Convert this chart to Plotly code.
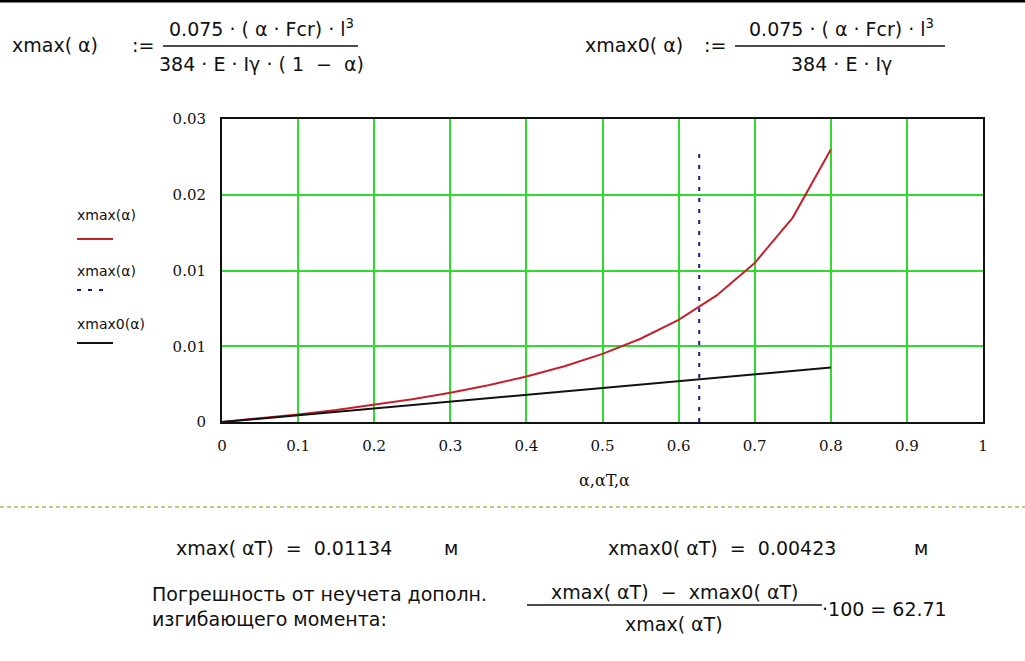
import plotly.graph_objects as go

# ---- data ----
alpha = [0, 0.05, 0.1, 0.15, 0.2, 0.25, 0.3, 0.35, 0.4, 0.45, 0.5, 0.55, 0.6, 0.65, 0.7, 0.75, 0.8]
xmax_vals = [0, 0.000355, 0.000750, 0.001190, 0.001687, 0.002249, 0.002891, 0.003633, 0.004497,
             0.005520, 0.006746, 0.008245, 0.010119, 0.012529, 0.015741, 0.020238, 0.026984]
xmax0_vals = [0, 0.000337, 0.000675, 0.001012, 0.001349, 0.001687, 0.002024, 0.002361, 0.002698,
              0.003036, 0.003373, 0.003710, 0.004048, 0.004385, 0.004722, 0.005060, 0.005397]
alphaT_x = [0.6271, 0.6271]
alphaT_y = [0, 0.026984]

x_ticks = [0, 0.1, 0.2, 0.3, 0.4, 0.5, 0.6, 0.7, 0.8, 0.9, 1]
x_ticktext = ["0", "0.1", "0.2", "0.3", "0.4", "0.5", "0.6", "0.7", "0.8", "0.9", "1"]
y_ticks = [0, 0.0075, 0.015, 0.0225, 0.03]
y_ticktext = ["0", "0.01", "0.01", "0.02", "0.03"]

W, H = 1025, 661
L, R, T, B = 222, 983, 119, 422


def px(x):
    return (x - L) / (R - L)


def py(y):
    return (B - y) / (B - T)


RED = "#c8202a"
BLUE = "#1a1a8c"
GREEN = "#2ddc2d"
MATH_FONT = "DejaVu Sans, sans-serif"
TICK_FONT = "DejaVu Serif, serif"
MS = 19

fig = go.Figure()
fig.add_trace(go.Scatter(x=alpha, y=xmax_vals, mode="lines", line=dict(color=RED, width=2), showlegend=False))
fig.add_trace(go.Scatter(x=alphaT_x, y=alphaT_y, mode="lines",
                         line=dict(color=BLUE, width=2, dash="4px,7px"), showlegend=False))
fig.add_trace(go.Scatter(x=alpha, y=xmax0_vals, mode="lines", line=dict(color="#111111", width=2), showlegend=False))

annotations = []
shapes = []


def text(x, y, s, size=MS, anchor="left", family=MATH_FONT, color="#111111"):
    annotations.append(dict(x=px(x), y=py(y), xref="paper", yref="paper", text=s, showarrow=False,
                            xanchor=anchor, yanchor="middle", font=dict(size=size, family=family, color=color)))


def hline(x0, x1, y, color="#111111", width=1.5, dash=None):
    ln = dict(color=color, width=width)
    if dash:
        ln["dash"] = dash
    shapes.append(dict(type="line", xref="paper", yref="paper", x0=px(x0), x1=px(x1), y0=py(y), y1=py(y), line=ln))


# top black band
shapes.append(dict(type="rect", xref="paper", yref="paper", x0=px(0), x1=px(W), y0=py(0), y1=py(2.5),
                   line=dict(width=0), fillcolor="#000000"))

# formula 1
text(10, 45, "xmax( α)")
text(130, 45, ":=")
text(261, 28, "0.075 · ( α · Fcr) · l<sup>3</sup>", anchor="center")
hline(163, 358, 46)
text(261, 64, "384 · E · Iγ · ( 1  −  α)", anchor="center")

# formula 2
text(583, 45, "xmax0( α)")
text(702, 45, ":=")
text(841, 28, "0.075 · ( α · Fcr) · l<sup>3</sup>", anchor="center")
hline(735, 945, 46)
text(841, 64, "384 · E · Iγ", anchor="center")

# legend
LEG_FONT = "DejaVu Sans, sans-serif"
text(75, 215, "xmax(α)", size=14, family=LEG_FONT)
hline(77, 113, 239, color=RED, width=2)
text(75, 271, "xmax(α)", size=14, family=LEG_FONT)
hline(77, 103, 290, color=BLUE, width=2, dash="4px,7px")
text(75, 324, "xmax0(α)", size=14, family=LEG_FONT)
hline(77, 113, 343, color="#111111", width=2)

# x axis title
text(604, 480, "α,αT,α", size=16, anchor="center", family=TICK_FONT)

# separator
hline(0, W, 507, color="#b5b55a", width=1.5, dash="4px,3px")

# results
text(174, 548, "xmax( αT)  =  0.01134")
text(442, 548, "м")
text(606, 548, "xmax0( αT)  =  0.00423")
text(912, 548, "м")

text(150, 594, "Погрешность от неучета дополн.")
text(150, 619, "изгибающего момента:")
text(674, 592, "xmax( αT)  −  xmax0( αT)", anchor="center")
hline(527, 822, 605)
text(674, 624, "xmax( αT)", anchor="center")
text(820, 609, "·100 = 62.71")

fig.update_layout(
    width=W, height=H,
    margin=dict(l=L, r=W - R, t=T, b=H - B),
    paper_bgcolor="white", plot_bgcolor="white",
    annotations=annotations, shapes=shapes,
    xaxis=dict(range=[0, 1], tickvals=x_ticks, ticktext=x_ticktext, showgrid=True, gridcolor=GREEN, gridwidth=2,
               zeroline=False, showline=True, mirror=True, linecolor="#111111", linewidth=2, ticks="",
               ticklabelstandoff=9, tickfont=dict(family=TICK_FONT, size=15, color="#111111")),
    yaxis=dict(range=[0, 0.03], tickvals=y_ticks, ticktext=y_ticktext, showgrid=True, gridcolor=GREEN, gridwidth=2,
               zeroline=False, showline=True, mirror=True, linecolor="#111111", linewidth=2, ticks="",
               ticklabelstandoff=11, tickfont=dict(family=TICK_FONT, size=15, color="#111111")),
)

fig.write_html("out.html")
